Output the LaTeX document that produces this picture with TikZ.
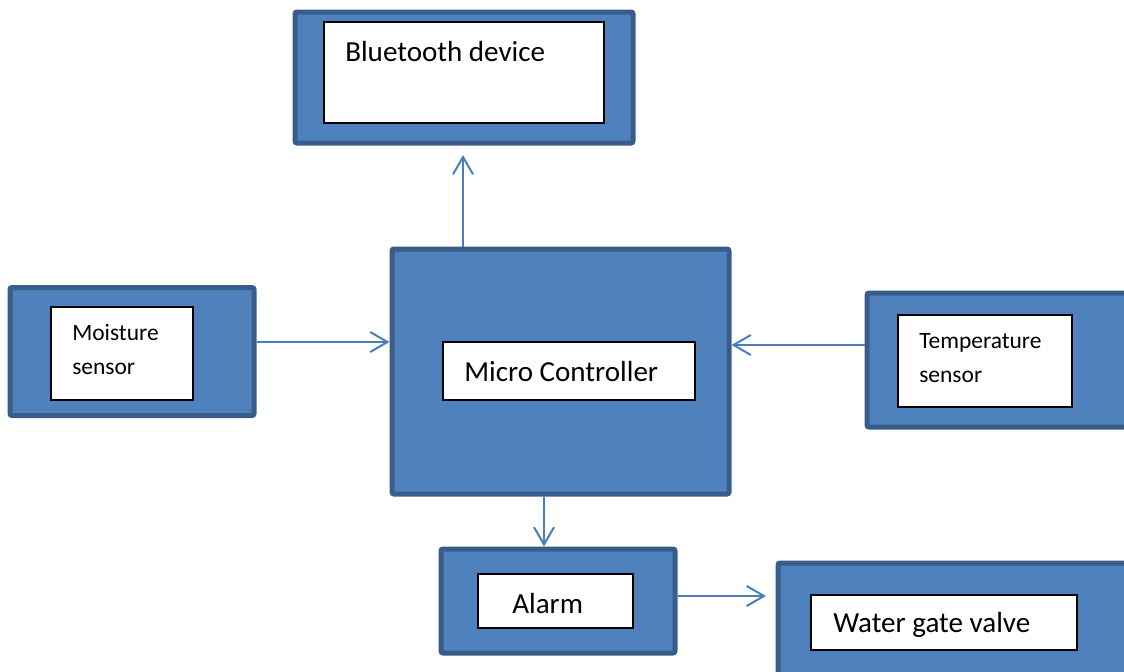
\documentclass[tikz,border=0pt]{standalone}
\usepackage{fontspec}
\setmainfont{Carlito}
\usetikzlibrary{arrows.meta}
\definecolor{boxfill}{HTML}{4F81BD}
\definecolor{boxline}{HTML}{385D8A}
\definecolor{arrowc}{HTML}{4A7EBB}
\tikzset{
  outerbox/.style={draw=boxline, fill=boxfill, line width=3.75pt, rounded corners=1.5pt, inner sep=0pt},
  innerbox/.style={draw=black, fill=white, line width=0.8pt, inner sep=0pt},
  bigtext/.style={anchor=base west, inner sep=0pt, font=\fontsize{21.8}{26}\selectfont},
  smalltext/.style={anchor=base west, inner sep=0pt, font=\fontsize{17.6}{21}\selectfont},
  conn/.style={draw=arrowc, line width=1.5pt, -{Straight Barb[length=13pt,width=15pt,line width=1.5pt]}}
}
\begin{document}
\begin{tikzpicture}[x=0.75pt,y=-0.75pt]
\useasboundingbox (0,0) rectangle (1124,671);
\clip (0,0) rectangle (1124,671);
% Bluetooth
\node[outerbox, minimum width=338*0.75pt, minimum height=131*0.75pt] (bt) at (464,77.5) {};
\node[innerbox, minimum width=280*0.75pt, minimum height=101*0.75pt] (btin) at (464,72.5) {};
\node[bigtext] (bttext) at (345,61) {Bluetooth device};
% Micro controller
\node[outerbox, minimum width=337*0.75pt, minimum height=245*0.75pt] (mc) at (560.5,371.5) {};
\node[innerbox, minimum width=252*0.75pt, minimum height=58*0.75pt] (mcin) at (569,371) {};
\node[bigtext] (mctext) at (464,381) {Micro Controller};
% Moisture
\node[outerbox, minimum width=244*0.75pt, minimum height=128*0.75pt] (ms) at (132,351.5) {};
\node[innerbox, minimum width=142*0.75pt, minimum height=93*0.75pt] (msin) at (122,353.5) {};
\node[smalltext] (mstext1) at (72,340) {Moisture};
\node[smalltext] (mstext2) at (72,374) {sensor};
% Temperature
\node[outerbox, minimum width=300*0.75pt, minimum height=134*0.75pt] (ts) at (1017,360) {};
\node[innerbox, minimum width=174*0.75pt, minimum height=92*0.75pt] (tsin) at (985,361) {};
\node[smalltext] (tstext1) at (919,348) {Temperature};
\node[smalltext] (tstext2) at (919,382) {sensor};
% Alarm
\node[outerbox, minimum width=234*0.75pt, minimum height=104*0.75pt] (al) at (558,601) {};
\node[innerbox, minimum width=155*0.75pt, minimum height=54*0.75pt] (alin) at (555.5,601) {};
\node[bigtext] (altext) at (512,613) {Alarm};
% Water gate valve
\node[outerbox, minimum width=360*0.75pt, minimum height=140*0.75pt] (wg) at (958,633) {};
\node[innerbox, minimum width=266*0.75pt, minimum height=55*0.75pt] (wgin) at (944,622.5) {};
\node[bigtext] (wgtext) at (833,632) {Water gate valve};
% connectors
\coordinate (btarrow) at (463,155);
\coordinate (wgarrow) at (766,596);
\draw[conn] (mc.north -| btarrow) -- (btarrow);
\draw[conn] (ms.east |- 0,342) -- (mc.west |- 0,342);
\draw[conn] (ts.west |- 0,345) -- (mc.east |- 0,345);
\draw[conn] (mc.south -| 544,0) -- (al.north -| 544,0);
\draw[conn] (al.east |- wgarrow) -- (wgarrow);
\end{tikzpicture}
\end{document}
